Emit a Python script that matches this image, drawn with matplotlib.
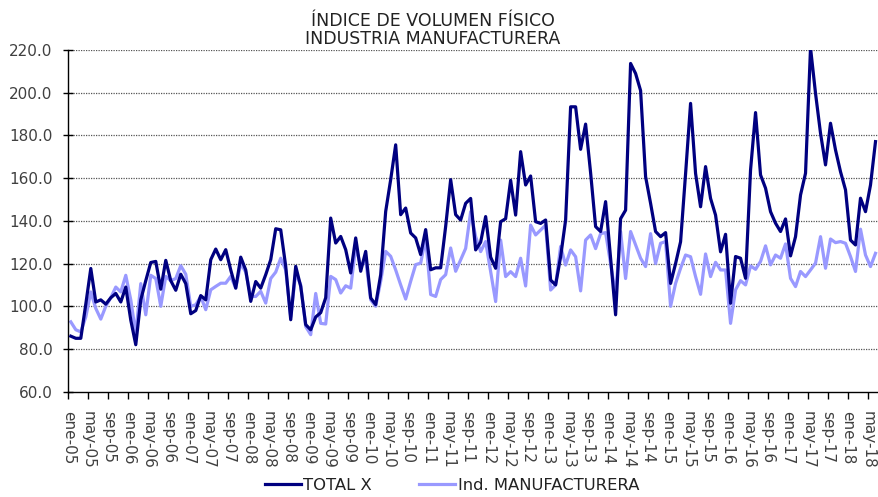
import matplotlib
matplotlib.use("Agg")
import matplotlib.pyplot as plt
from matplotlib.ticker import FuncFormatter

months = ["ene", "feb", "mar", "abr", "may", "jun", "jul", "ago", "sep", "oct", "nov", "dic"]
categories = [f"{months[i % 12]}-{(5 + i // 12):02d}" for i in range(162)]

total_x = [
    86, 85, 85, 101, 117.7, 102, 103, 101, 104, 106, 102, 109,
    93.5, 82, 103, 112, 120.5, 121, 108, 121.5, 112, 107.5, 115, 110.6,
    96.5, 98, 105, 103, 121.8, 126.8, 121.8, 126.5, 117, 108.5, 123, 117,
    102.3, 111.6, 108.5, 114.8, 121.8, 136.3, 135.8, 118.7, 93.7, 118.7, 109.3, 91.4,
    89, 95, 97, 104, 141.3, 129.6, 132.7, 126.5, 115.6, 132, 116.4, 125.7,
    103.9, 100.8, 114.8, 144.4, 159.3, 175.6, 142.9, 146, 134.3, 132, 124.2, 135.9,
    117.1, 118, 118, 137.4, 159.3, 142.9, 140.4, 148.2, 150.5, 126.4, 130, 142,
    123, 117.8, 139.6, 141, 159, 142.7, 172.4, 156.8, 161, 139.6, 138.8, 140.4,
    112.3, 110, 123.2, 140.4, 193.4, 193.4, 173.5, 185.3, 162.5, 137.3, 135, 149,
    122.5, 96, 141, 145, 213.7, 209, 201, 160.7, 148.2, 135, 132.6, 134.5,
    110.7, 120, 130.2, 162, 195, 162.2, 146.6, 165.4, 150.5, 142.7, 125.5, 133.7,
    101.4, 123.3, 122.5, 113.1, 163.8, 190.7, 161.5, 155.3, 144.3, 138.9, 135, 140.9,
    123.6, 132.6, 152.1, 162.3, 221, 199.7, 181, 166.2, 185.7, 173.2, 163, 154.5,
    131, 128.7, 150.6, 144.3, 156.8, 177.1,
]

ind_manuf = [
    92.7, 89, 88, 95, 106.7, 99, 94, 100, 104, 109, 106.7, 114.5,
    103, 87, 110.6, 96, 114.5, 113, 100, 114, 112, 113, 119, 115,
    100, 100.7, 104.6, 98.4, 107.7, 109.3, 110.8, 110.8, 114, 108.5, 120, 116,
    104.6, 104.6, 107, 101.5, 113, 116, 122.5, 117, 95, 115.5, 110, 90.5,
    86.7, 106, 92, 91.7, 114, 112.5, 106.2, 109.6, 108.5, 128, 118.7, 121.8,
    103, 100, 111.7, 125.7, 123.4, 117, 110, 103.4, 111.7, 119.5, 120.2, 132,
    105.5, 104.6, 112.5, 114.8, 127.3, 116.4, 121.7, 127.1, 144.3, 132.6, 125.6, 130.3,
    116.2, 102.2, 131, 113.9, 116.2, 113.9, 122.5, 109.5, 138, 133.4, 135.7, 138,
    107.6, 110, 128, 119.3, 126.4, 123.2, 107.2, 131, 133.4, 127, 134, 134.5,
    120, 105.3, 135, 113, 135, 128.7, 122.5, 118.6, 134, 120, 129.5, 130.3,
    100, 110.7, 117.8, 124, 123.2, 113.9, 105.6, 124.5, 113.9, 120.6, 117, 117,
    92, 107.7, 112, 110, 118.9, 117.3, 121, 128.3, 119.4, 124, 122.5, 129.2,
    113.1, 109.2, 116.3, 113.9, 117, 120.2, 132.6, 117.8, 131.5, 129.8, 130.3, 129.5,
    123.3, 116.3, 136.1, 124, 118.6, 124.8,
]

y_ticks = [60, 80, 100, 120, 140, 160, 180, 200, 220]
series_names = ["TOTAL X", "Ind. MANUFACTURERA"]
title_lines = ["ÍNDICE DE VOLUMEN FÍSICO", "INDUSTRIA MANUFACTURERA"]

plt.rcParams['font.family'] = ['DejaVu Sans']

W, H = 879, 497
fig = plt.figure(figsize=(W / 100, H / 100), dpi=100)
ax = fig.add_axes([68.3 / W, 1 - 391.7 / H, (878 - 68.3) / W, (391.7 - 50) / H])

x = list(range(len(categories)))
l1, = ax.plot(x, total_x, color="#000080", lw=2.3, label=series_names[0], zorder=3)
l2, = ax.plot(x, ind_manuf, color="#9999FF", lw=2.3, label=series_names[1], zorder=2)

ax.set_xlim(-0.5, len(categories) - 0.5)
ax.set_ylim(60, 220)

tick_pos = [i - 0.5 for i in range(0, len(categories), 4)]
tick_lab = [categories[i] for i in range(0, len(categories), 4)]
ax.set_xticks(tick_pos)
ax.set_xticklabels(tick_lab, rotation=-90, fontsize=11, color="#404040")
ax.set_yticks(y_ticks)
ax.yaxis.set_major_formatter(FuncFormatter(lambda v, p: f"{v:.1f}"))
for t in ax.get_yticklabels():
    t.set_fontsize(11)
    t.set_color("#404040")

ax.tick_params(axis='y', direction='inout', length=7, width=1, pad=8)
ax.tick_params(axis='x', direction='out', length=5, width=1, pad=9)

for s in ["top", "right"]:
    ax.spines[s].set_visible(False)
ax.spines["left"].set_linewidth(1)
ax.spines["bottom"].set_linewidth(1)

for v in y_ticks[1:]:
    ax.axhline(v, color="#555555", lw=0.9, ls=(0, (1, 1)), zorder=1)

fig.text(433 / W, 1 - 21 / H, title_lines[0], ha="center", va="center", fontsize=12.5, color="#222222")
fig.text(433 / W, 1 - 39.5 / H, title_lines[1], ha="center", va="center", fontsize=12.5, color="#222222")

fig.legend(handles=[l1, l2], loc="center", bbox_to_anchor=(452 / W, 1 - 485 / H), ncol=2,
           frameon=False, fontsize=11.8, handlelength=2.2, columnspacing=2.9, handletextpad=0.15,
           labelcolor="#222222")

fig.savefig("out.png", dpi=100)
